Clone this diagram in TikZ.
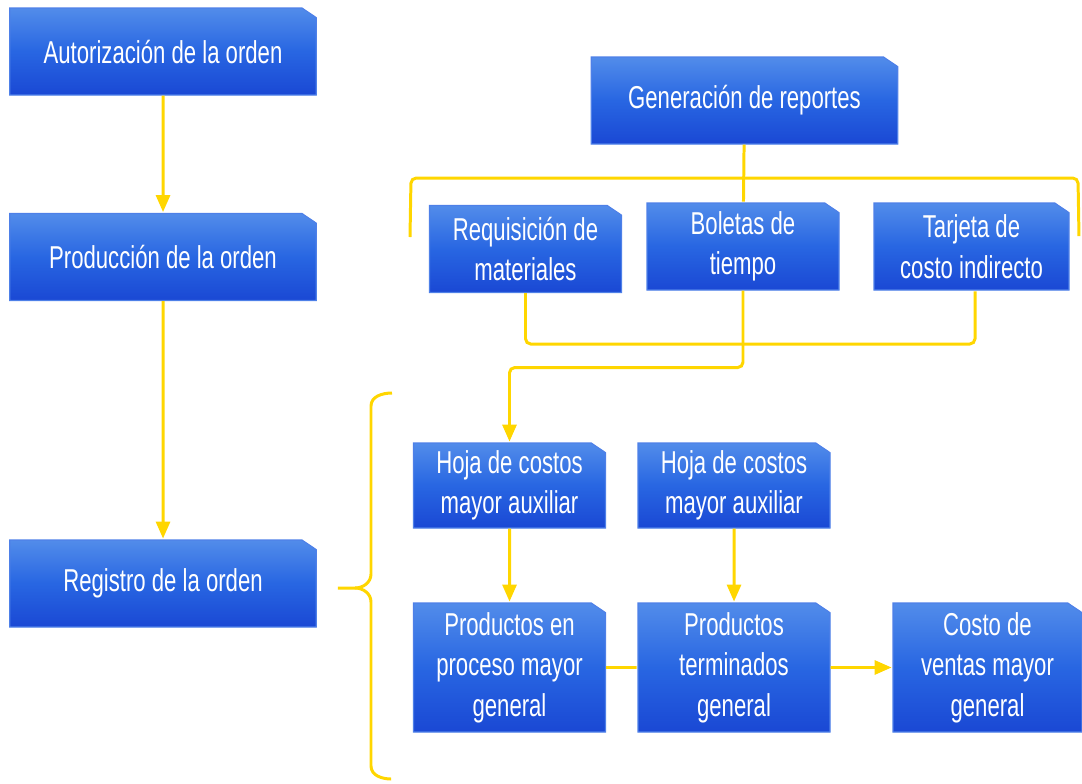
\documentclass[tikz,border=0pt]{standalone}
\usepackage{fontspec}
\setmainfont{Liberation Sans}[FakeStretch=0.7]
\usepackage{tikz}
\usetikzlibrary{arrows.meta,shapes.misc}

\definecolor{boxtop}{RGB}{82,140,234}
\definecolor{boxmid}{RGB}{40,102,226}
\definecolor{boxbot}{RGB}{26,72,212}
\definecolor{boxline}{RGB}{78,128,232}
\definecolor{gold}{RGB}{255,214,0}

\begin{document}
\begin{tikzpicture}[>={Triangle[length=0.34cm,width=0.28cm]},shorten >=0.5pt,
                    main node/.style={chamfered rectangle,chamfered rectangle corners=north east,
                      chamfered rectangle angle=56,chamfered rectangle xsep=0.1cm,
                      top color=boxtop,bottom color=boxbot,middle color=boxmid,draw=boxline,line width=0.6pt,
                      text=white,font=\fontsize{18}{23}\selectfont,align=center,inner sep=0pt,minimum height=1.74cm},
                    wide/.style={minimum width=6.13cm},
                    small/.style={minimum width=3.84cm},
                    link/.style={gold,line width=1.7pt}]

  \useasboundingbox (0,0) rectangle (21.64,-15.66);

  % left column
  \node[main node, wide] (auth) at (3.26,-1.03) {Autorizaci\'on de la orden};
  \node[main node, wide] (prod) at (3.26,-5.14) {Producci\'on de la orden};
  \node[main node, wide] (reg)  at (3.26,-11.67) {Registro de la orden};

  % reports
  \node[main node, wide]  (gen) at (14.89,-2.01) {Generaci\'on de reportes};
  \node[main node, small] (req) at (10.51,-4.98) {Requisici\'on de\\materiales};
  \node[main node, small] (bol) at (14.86,-4.93) {Boletas de\\tiempo};
  \node[main node, small, minimum width=3.9cm] (tar) at (19.43,-4.93) {Tarjeta de\\costo indirecto};

  % ledgers
  \node[main node, small, minimum height=1.7cm] (hoja1) at (10.19,-9.71) {Hoja de costos\\mayor auxiliar};
  \node[main node, small, minimum height=1.7cm] (hoja2) at (14.68,-9.71) {Hoja de costos\\mayor auxiliar};
  \node[main node, small, minimum height=2.58cm] (proc)  at (10.19,-13.35) {Productos en\\proceso mayor\\general};
  \node[main node, small, minimum height=2.58cm] (term)  at (14.68,-13.35) {Productos\\terminados\\general};
  \node[main node, small, minimum height=2.58cm, minimum width=3.78cm] (venta) at (19.75,-13.35) {Costo de\\ventas mayor\\general};

  \path[link,->]
    (auth)  edge (prod)
    (prod)  edge (reg)
    (gen)   edge [-] (bol)
    (hoja1) edge (proc)
    (hoja2) edge (term)
    (proc)  edge [-] (term)
    (term)  edge (venta);

  \draw[link, rounded corners=3pt] (8.2,-4.74) -- (8.22,-3.56) -- (21.56,-3.56) -- (21.58,-4.74);
  \draw[link, rounded corners=3pt] (req.south) -- ++(0,-1.02) -| ([xshift=0.07cm]tar.south);
  \draw[link, rounded corners=3pt, ->] (bol.south) -- ++(0,-1.54) -| (hoja1.north);

  % brace
  \draw[link] (7.84,-7.86) to[out=180,in=90] (7.42,-8.12) -- (7.42,-11.48)
    to[out=-90,in=0] (7.1,-11.76) -- (6.74,-11.76);
  \draw[link] (7.1,-11.76) to[out=0,in=90] (7.42,-12.04) -- (7.42,-15.32)
    to[out=-90,in=180] (7.84,-15.58);
\end{tikzpicture}
\end{document}
